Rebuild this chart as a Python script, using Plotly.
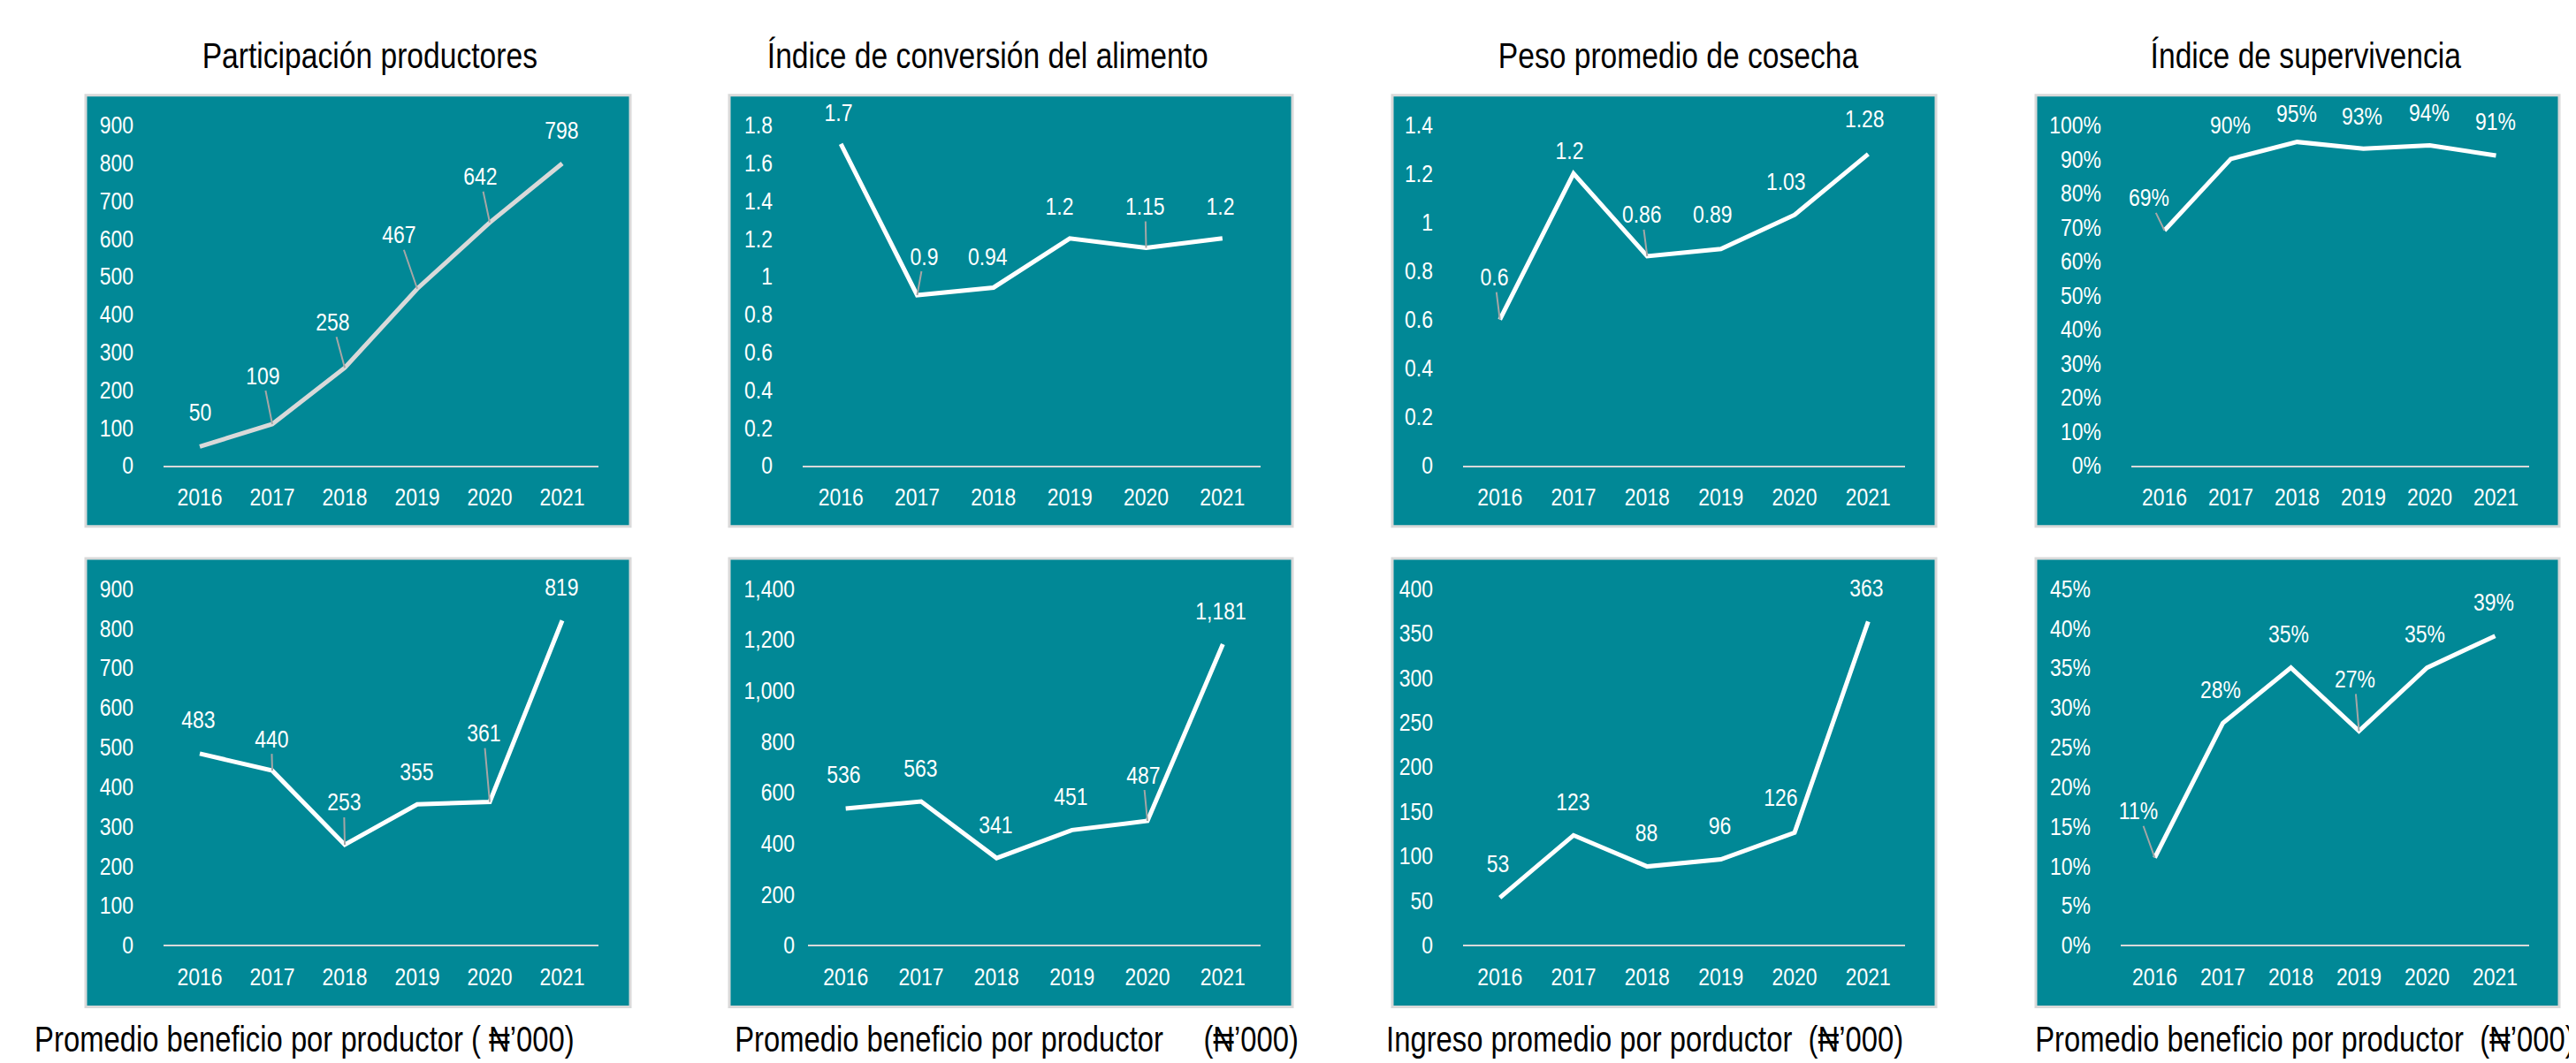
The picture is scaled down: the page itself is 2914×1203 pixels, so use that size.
import json

import plotly.graph_objects as go
from plotly.subplots import make_subplots

W, H = 2914, 1203

years = ["2016", "2017", "2018", "2019", "2020", "2021"]

participacion = [50, 109, 258, 467, 642, 798]
conversion = [1.7, 0.9, 0.94, 1.2, 1.15, 1.2]
peso_cosecha = [0.6, 1.2, 0.86, 0.89, 1.03, 1.28]
supervivencia = [0.69, 0.90, 0.95, 0.93, 0.94, 0.91]

beneficio_a = [483, 440, 253, 355, 361, 819]
beneficio_b = [536, 563, 341, 451, 487, 1181]
ingreso = [53, 123, 88, 96, 126, 363]
beneficio_pct = [0.11, 0.28, 0.35, 0.27, 0.35, 0.39]

titles = [
    "Participación productores",
    "Índice de conversión del alimento",
    "Peso promedio de cosecha",
    "Índice de supervivencia",
]
captions = [
    "Promedio beneficio por productor ( ₦’000)",
    "Promedio beneficio por productor\u00a0\u00a0\u00a0\u00a0 (₦’000)",
    "Ingreso promedio por porductor\u00a0 (₦’000)",
    "Promedio beneficio por productor\u00a0 (₦’000)",
]

TEAL = "#018896"
LIGHT = "#d9d9d9"
LEADER = "#a6a6a6"
FONT = "Liberation Sans, Arial, sans-serif"
NARROW = 0.82  # horizontal squeeze to mimic a narrow typeface

# panel boxes (px): x0, x1 ; plot area x0, x1
cols_px = [
    dict(box=(89, 705), plot=(177, 669)),
    dict(box=(817, 1454), plot=(900, 1418)),
    dict(box=(1567, 2182), plot=(1647, 2147)),
    dict(box=(2295, 2887), plot=(2403, 2853)),
]
rows_px = [
    dict(box=(87, 588), plot=(121.5, 517)),
    dict(box=(625, 1146), plot=(660, 1074)),
]

num = lambda v: f"{v:g}"
thousands = lambda v: f"{v:,}"
pct = lambda v: f"{v:.0%}"

panels = [
    # top row
    dict(data=participacion, rng=900, dtick=100, tickfmt="", lab=num, color=LIGHT,
         off=[(0, -39), (-11, -55), (-14, -52), (-21, -61), (-11, -52), (-1, -38)],
         leader=[0, 1, 1, 1, 1, 0]),
    dict(data=conversion, rng=1.8, dtick=0.2, tickfmt="", lab=num, color="white",
         off=[(-3, -35), (8, -44), (-6, -35), (-12, -36), (-1, -47), (-2, -36)],
         leader=[0, 1, 0, 0, 1, 0]),
    dict(data=peso_cosecha, rng=1.4, dtick=0.2, tickfmt="", lab=num, color="white",
         off=[(-6, -48), (-5, -26), (-6, -47), (-9, -39), (-10, -38), (-4, -40)],
         leader=[1, 0, 1, 0, 0, 0]),
    dict(data=supervivencia, rng=1.0, dtick=0.1, tickfmt=".0%", lab=pct, color="white",
         off=[(-18, -37), (-1, -38), (-1, -32), (-2, -37), (-1, -37), (-1, -39)],
         leader=[1, 0, 0, 0, 0, 0], plot_x=(2403, 2853)),
    # bottom row
    dict(data=beneficio_a, rng=900, dtick=100, tickfmt="", lab=num, color="white",
         off=[(-2, -38), (-1, -36), (-1, -48), (-1, -37), (-7, -78), (-1, -38)],
         leader=[0, 1, 1, 0, 1, 0]),
    dict(data=beneficio_b, rng=1400, dtick=200, tickfmt=",", lab=thousands, color="white",
         off=[(-2, -38), (-1, -38), (-1, -38), (-1, -38), (-5, -52), (-2, -38)],
         leader=[0, 0, 0, 0, 1, 0], plot_x=(906, 1418), standoff=14),
    dict(data=ingreso, rng=400, dtick=50, tickfmt="", lab=num, color="white",
         off=[(-2, -38), (-1, -38), (-1, -38), (-1, -38), (-16, -40), (-2, -38)],
         leader=[0, 0, 0, 0, 0, 0]),
    dict(data=beneficio_pct, rng=0.45, dtick=0.05, tickfmt=".0%", lab=pct, color="white",
         off=[(-19, -53), (-3, -38), (-3, -38), (-5, -59), (-3, -38), (-2, -38)],
         leader=[1, 0, 0, 1, 0, 0], plot_x=(2391, 2853)),
]

fig = make_subplots(rows=2, cols=4)
anchors = []  # squeeze origin per annotation: c / l / r

for i, p in enumerate(panels):
    r, c = i // 4, i % 4
    box_x = cols_px[c]["box"]
    plot_x = p.get("plot_x", cols_px[c]["plot"])
    box_y = rows_px[r]["box"]
    plot_y = rows_px[r]["plot"]

    # teal panel background
    fig.add_shape(
        type="rect", xref="paper", yref="paper", layer="below",
        x0=box_x[0] / W, x1=box_x[1] / W,
        y0=1 - box_y[1] / H, y1=1 - box_y[0] / H,
        fillcolor=TEAL, line=dict(color=LIGHT, width=3),
    )

    fig.add_trace(
        go.Scatter(
            x=years, y=p["data"], mode="lines",
            line=dict(color=p["color"], width=5),
            hoverinfo="skip", showlegend=False,
        ),
        row=r + 1, col=c + 1,
    )

    fig.update_xaxes(
        domain=[plot_x[0] / W, plot_x[1] / W],
        type="category", range=[-0.5, 5.5],
        showline=True, linecolor=LIGHT, linewidth=2,
        showgrid=False, zeroline=False, ticks="",
        ticklabelstandoff=10,
        tickfont=dict(family=FONT, size=28, color="white"),
        row=r + 1, col=c + 1,
    )
    fig.update_yaxes(
        domain=[1 - plot_y[1] / H, 1 - plot_y[0] / H],
        range=[0, p["rng"]], tickmode="linear", tick0=0, dtick=p["dtick"],
        tickformat=p["tickfmt"],
        showline=False, showgrid=False, zeroline=False, ticks="",
        ticklabelstandoff=p.get("standoff", 33),
        tickfont=dict(family=FONT, size=28, color="white"),
        row=r + 1, col=c + 1,
    )

    n = i + 1
    xref = "x" if n == 1 else f"x{n}"
    yref = "y" if n == 1 else f"y{n}"
    for j, (v, (dx, dy), ld) in enumerate(zip(p["data"], p["off"], p["leader"])):
        fig.add_annotation(
            x=j, y=v, xref=xref, yref=yref,
            text=p["lab"](v),
            showarrow=True, ax=dx, ay=dy,
            arrowhead=0, arrowwidth=2, standoff=0,
            arrowcolor=LEADER if ld else "rgba(0,0,0,0)",
            font=dict(family=FONT, size=28, color="white"),
        )
        anchors.append("c")

# titles above the top row
title_x = [410, 1109, 1890, 2600]
for t, x in zip(titles, title_x):
    fig.add_annotation(
        text=t, x=x / W, y=1 - 41 / H, xref="paper", yref="paper",
        xanchor="center", yanchor="middle", showarrow=False,
        font=dict(family=FONT, size=41, color="black"),
    )
    anchors.append("c")

# captions below the bottom row
caption_pos = [(29, "left"), (821, "left"), (1558, "left"), (2907, "right")]
for t, (x, anchor) in zip(captions, caption_pos):
    fig.add_annotation(
        text=t, x=x / W, y=1 - 1183 / H, xref="paper", yref="paper",
        xanchor=anchor, yanchor="middle", showarrow=False,
        font=dict(family=FONT, size=40, color="black"),
    )
    anchors.append(anchor[0])

fig.update_layout(
    width=W, height=H,
    margin=dict(l=0, r=0, t=0, b=0),
    paper_bgcolor="white",
    plot_bgcolor="rgba(0,0,0,0)",
    showlegend=False,
)

squeeze_js = """
var gd = document.getElementById('{plot_id}');
var S = %s;
var anchors = %s;
function squeeze(t, mode) {
  var bb = t.getBBox();
  var ox = mode === 'l' ? bb.x : (mode === 'r' ? bb.x + bb.width : bb.x + bb.width / 2);
  var old = t.getAttribute('transform') || '';
  t.setAttribute('transform', old + ' translate(' + ox + ',0) scale(' + S + ',1) translate(' + (-ox) + ',0)');
}
gd.querySelectorAll('g.xaxislayer-above text').forEach(function (t) { squeeze(t, 'c'); });
gd.querySelectorAll('g.yaxislayer-above text').forEach(function (t) { squeeze(t, 'r'); });
gd.querySelectorAll('g.annotation').forEach(function (g) {
  var i = +g.getAttribute('data-index');
  var t = g.querySelector('text.annotation-text');
  if (t) squeeze(t, anchors[i] || 'c');
});
""" % (NARROW, json.dumps(anchors))

fig.write_html("out.html", post_script=squeeze_js)
